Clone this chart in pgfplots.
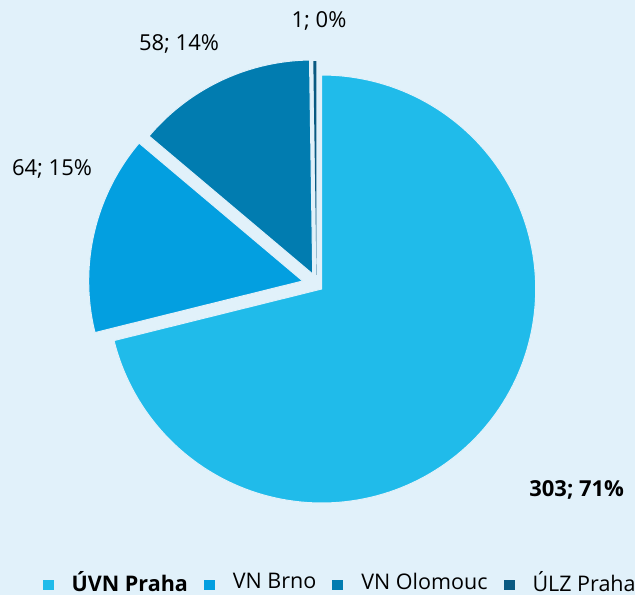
\documentclass[border=0pt]{standalone}
\usepackage{pgfplots}
\pgfplotsset{compat=1.18}
\usepackage{fontspec}
\setmainfont{Open Sans}
\definecolor{bg}{HTML}{E1F1FA}
\definecolor{c1}{HTML}{20BBEA}
\definecolor{c2}{HTML}{039FE0}
\definecolor{c3}{HTML}{017CB0}
\definecolor{c4}{HTML}{0A5A82}
\begin{document}
\begin{tikzpicture}
% data
\pgfmathsetmacro{\vA}{303}
\pgfmathsetmacro{\vB}{64}
\pgfmathsetmacro{\vC}{58}
\pgfmathsetmacro{\vD}{1}
\pgfmathsetmacro{\tot}{\vA+\vB+\vC+\vD}
\pgfmathsetmacro{\aA}{90}
\pgfmathsetmacro{\aB}{\aA-360*(\vA/\tot)}
\pgfmathsetmacro{\aC}{\aB-360*(\vB/\tot)}
\pgfmathsetmacro{\aD}{\aC-360*(\vC/\tot)}
\pgfmathsetmacro{\aE}{\aD-360*(\vD/\tot)}
\def\R{214}
\begin{axis}[
  name=ax,
  width=635pt,height=595pt,scale only axis,
  xmin=0,xmax=635,ymin=0,ymax=595,
  hide axis, clip=false,
  legend columns=4,
  legend style={at={(42.7/635,2.5/595)},anchor=south west,draw=none,fill=none,
    inner sep=0pt, outer sep=0pt,
    nodes={inner sep=0pt},
    font=\fontsize{21.5}{25}\selectfont,
    /tikz/every odd column/.append style={column sep=18pt},
    /tikz/every even column/.append style={column sep=16pt}},
  legend image code/.code={\fill[#1,draw=none] (0pt,-8.5pt) rectangle (11pt,1.5pt);},
]
\fill[bg] (rel axis cs:0,0) rectangle (rel axis cs:1,1);
\addplot[fill=c1, draw=bg, line width=1pt, domain=\aB:\aA, samples=150, variable=\t]
  ({321.7+\R*cos(\t)},{306+\R*sin(\t)}) -- (axis cs:321.7,306) -- cycle;
\addlegendentry{\textbf{ÚVN Praha}}
\addplot[fill=c2, draw=bg, line width=1pt, domain=\aC:\aB, samples=50, variable=\t]
  ({302.7+\R*cos(\t)},{314+\R*sin(\t)}) -- (axis cs:302.7,314) -- cycle;
\addlegendentry{VN Brno}
\addplot[fill=c3, draw=bg, line width=1pt, domain=\aD:\aC, samples=50, variable=\t]
  ({312.7+\R*cos(\t)},{321+\R*sin(\t)}) -- (axis cs:312.7,321) -- cycle;
\addlegendentry{VN Olomouc}
\addplot[fill=c4, draw=none, domain=\aE:\aD, samples=5, variable=\t]
  ({316.5+\R*cos(\t)},{320+\R*sin(\t)}) -- (axis cs:316.5,320) -- cycle;
\addlegendentry{ÚLZ Praha}
\node[font=\fontsize{22}{26}\selectfont\bfseries, anchor=base] at (axis cs:576.7,98.3) {303; 71\%};
\node[font=\fontsize{22}{26}\selectfont, anchor=base] at (axis cs:52,419.3) {64; 15\%};
\node[font=\fontsize{22}{26}\selectfont, anchor=base] at (axis cs:179,544.3) {58; 14\%};
\node[font=\fontsize{22}{26}\selectfont, anchor=base] at (axis cs:319,567.7) {1; 0\%};
\end{axis}
\pgfresetboundingbox
\path[use as bounding box] (ax.south west) rectangle (ax.north east);
\end{tikzpicture}
\end{document}
